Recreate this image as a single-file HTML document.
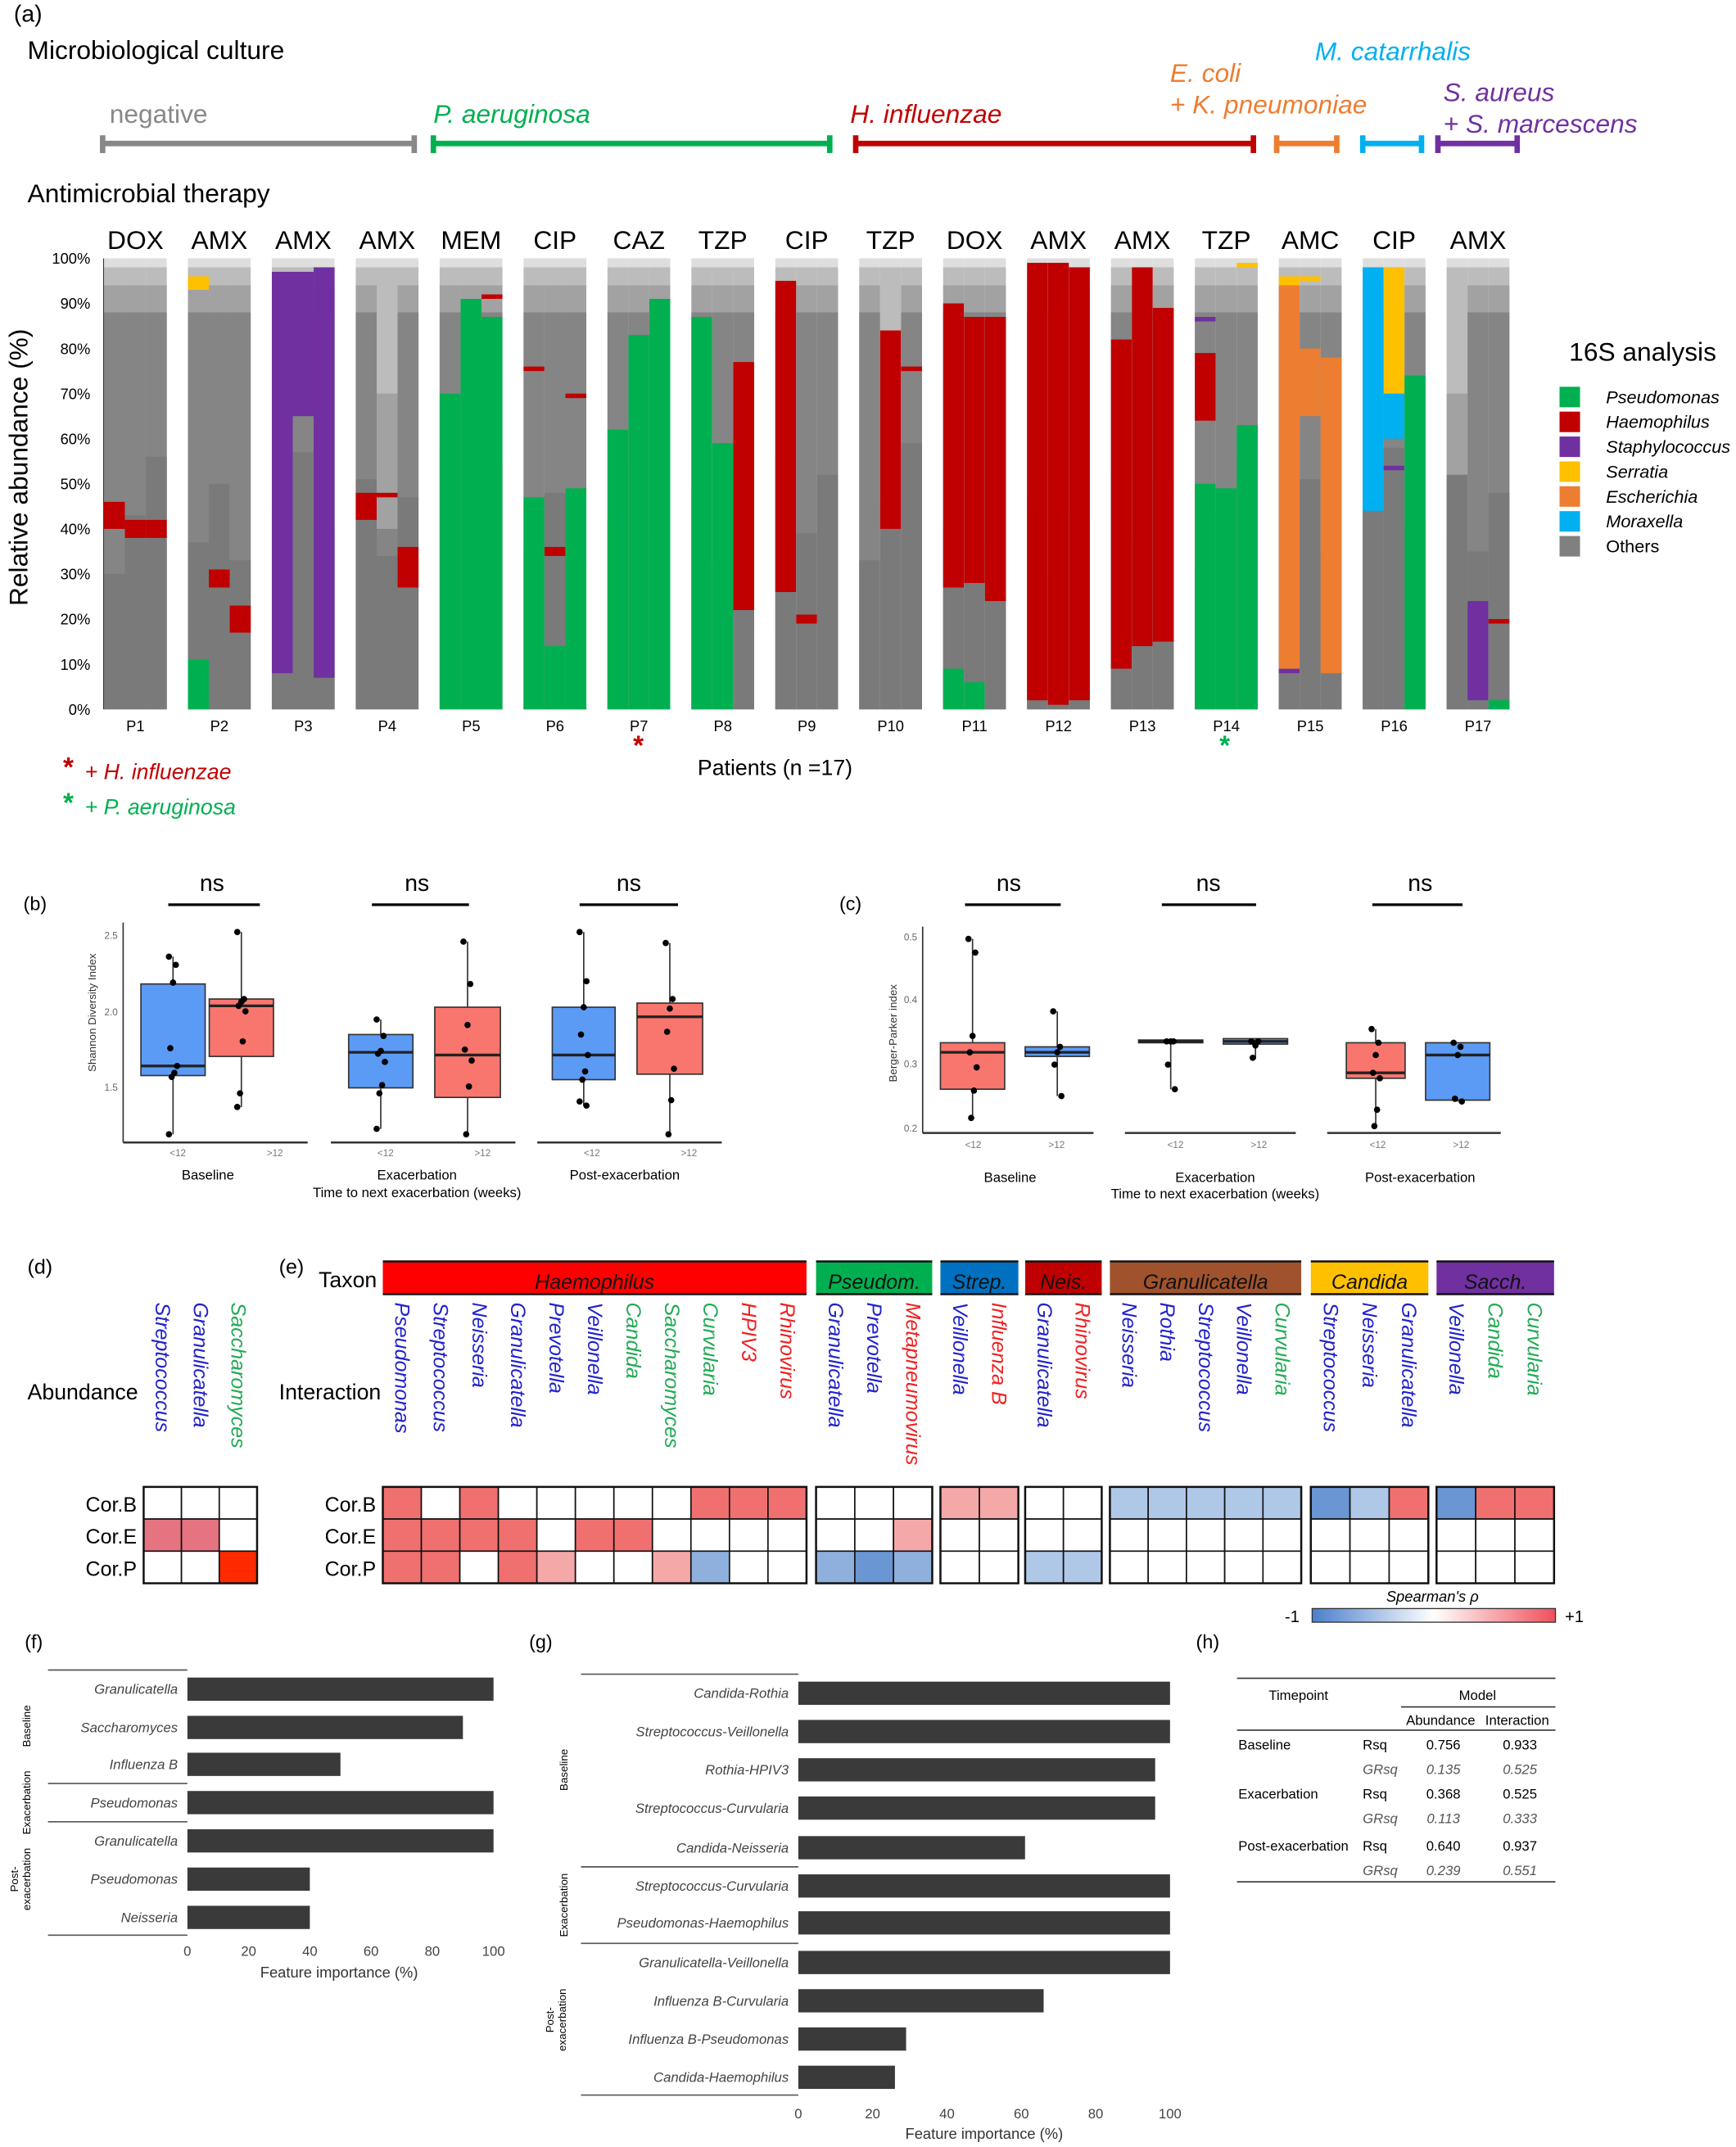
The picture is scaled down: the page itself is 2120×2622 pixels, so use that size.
<!DOCTYPE html>
<html><head><meta charset="utf-8"><style>
html,body{margin:0;padding:0;background:#fff}
svg{display:block}
text{font-family:"Liberation Sans",Arial,sans-serif}
</style></head><body>
<svg id="s" width="2120" height="2622" viewBox="0 0 1270 1571" xmlns="http://www.w3.org/2000/svg">
<rect width="1270" height="1571" fill="#fff"/>
<g id="g"></g>
</svg>
<script>
var h='';
function T(x,y,t,o){o=o||{};h+='<text x="'+x+'" y="'+y+'" font-size="'+(o.s||12)+'" fill="'+(o.c||'#000')+'"'+(o.a?' text-anchor="'+o.a+'"':'')+(o.i?' font-style="italic"':'')+(o.r?' transform="rotate('+o.r+' '+x+' '+y+')"':'')+(o.w?' font-weight="bold"':'')+'>'+t+'</text>';}
function R(x,y,w,hh,c,st){h+='<rect x="'+x+'" y="'+y+'" width="'+w+'" height="'+hh+'" fill="'+c+'"'+(st?' stroke="'+st+'" stroke-width="1"':'')+'/>';}
function L(x1,y1,x2,y2,c,w){h+='<line x1="'+x1+'" y1="'+y1+'" x2="'+x2+'" y2="'+y2+'" stroke="'+(c||'#000')+'" stroke-width="'+(w||1)+'"/>';}
var G='#00b050',RD='#c00000',PU='#7030a0',YE='#ffc000',OR='#ed7d31',BL='#00b0f0';
T(10,16,'(a)',{s:17});
T(20,43,'Microbiological culture',{s:19});
T(20,148,'Antimicrobial therapy',{s:19});
function br(x1,x2,c){L(x1,105,x2,105,c,4);L(x1,99,x1,112,c,4);L(x2,99,x2,112,c,4);}
br(75,303,'#888');br(317,607,G);br(626,917,RD);br(934,978,OR);br(997,1040,BL);br(1052,1110,PU);
T(80,90,'negative',{s:19,c:'#888'});
T(317,90,'P. aeruginosa',{s:19,c:G,i:1});
T(622,90,'H. influenzae',{s:19,c:RD,i:1});
T(856,60,'E. coli',{s:19,c:OR,i:1});T(856,83,'+ K. pneumoniae',{s:19,c:OR,i:1});
T(962,44,'M. catarrhalis',{s:19,c:BL,i:1});
T(1056,74,'S. aureus',{s:19,c:PU,i:1});T(1056,97,'+ S. marcescens',{s:19,c:PU,i:1});
var drugs=['DOX','AMX','AMX','AMX','MEM','CIP','CAZ','TZP','CIP','TZP','DOX','AMX','AMX','TZP','AMC','CIP','AMX'];
var bars=[
[[[40,46,RD]],[[38,42,RD]],[[38,42,RD]]],
[[[0,11,G],[93,96,YE]],[[27,31,RD]],[[17,23,RD]]],
[[[8,97,PU]],[[65,97,PU]],[[7,98,PU]]],
[[[42,48,RD]],[[47,48,RD]],[[27,36,RD]]],
[[[0,70,G]],[[0,91,G]],[[0,87,G],[91,92,RD]]],
[[[0,47,G],[75,76,RD]],[[0,14,G],[34,36,RD]],[[0,49,G],[69,70,RD]]],
[[[0,62,G]],[[0,83,G]],[[0,91,G]]],
[[[0,87,G]],[[0,59,G]],[[22,77,RD]]],
[[[26,95,RD]],[[19,21,RD]],[]],
[[],[[40,84,RD]],[[75,76,RD]]],
[[[0,9,G],[27,90,RD]],[[0,6,G],[28,87,RD]],[[24,87,RD]]],
[[[2,99,RD]],[[1,99,RD]],[[2,98,RD]]],
[[[9,82,RD]],[[14,98,RD]],[[15,89,RD]]],
[[[0,50,G],[64,79,RD],[86,87,PU]],[[0,49,G]],[[0,63,G],[98,99,YE]]],
[[[8,9,PU],[9,94,OR],[94,96,YE]],[[65,80,OR],[95,96,YE]],[[8,78,OR]]],
[[[44,98,BL]],[[53,54,PU],[60,70,BL],[70,98,YE]],[[0,74,G]]],
[[],[[2,24,PU]],[[0,2,G],[19,20,RD]]]
];
function yv(p){return 519-p*3.3;}
T(20,342,'Relative abundance (%)',{s:19,a:'middle',r:-90});
for(var k=0;k<=10;k++){T(66,yv(k*10)+4,(k*10)+'%',{s:11,a:'end'});}
L(76,189,76,519,'#000',1);
for(var i=0;i<17;i++){
 var cx=99+i*61.4;
 T(cx,182,drugs[i],{s:19,a:'middle'});
 T(cx,535,'P'+(i+1),{s:11,a:'middle'});
 for(var j=0;j<3;j++){
  var x=cx-23+j*15.3;var light=(i==16&&j==0)||(i==9&&j==1)||(i==3&&j==1);
  R(x,yv(100),15.3,330,'#dedede');
  R(x,yv(98),15.3,3.3*98,'#bcbcbc');
  R(x,yv(light?70:94),15.3,3.3*(light?70:94),'#a2a2a2');
  R(x,yv(light?40:88),15.3,3.3*(light?40:88),'#858585');
  R(x,yv(30+((i*7+j*13)%30)),15.3,3.3*(30+((i*7+j*13)%30)),'#7a7a7a');
  var s=bars[i][j];
  for(var q=0;q<s.length;q++){R(x,yv(s[q][1]),15.3,3.3*(s[q][1]-s[q][0]),s[q][2]);}
 }
}
T(467,552,'*',{s:20,c:RD,a:'middle',w:1});T(896,552,'*',{s:20,c:G,a:'middle',w:1});
T(567,567,'Patients (n =17)',{s:16,a:'middle'});
T(46,568,'*',{s:20,c:RD,w:1});T(62,570,'+ H. influenzae',{s:16,c:RD,i:1});
T(46,594,'*',{s:20,c:G,w:1});T(62,596,'+ P. aeruginosa',{s:16,c:G,i:1});
T(1148,264,'16S analysis',{s:19});
var lg=[['Pseudomonas',G],['Haemophilus',RD],['Staphylococcus',PU],['Serratia',YE],['Escherichia',OR],['Moraxella',BL],['Others','#808080']];
for(var k=0;k<7;k++){R(1141,283+k*18.2,15,15,lg[k][1]);T(1175,295+k*18.2,lg[k][0],{s:13,i:k<6});}
function box(x1,x2,q1,md,q3,wl,wh,col,pts){var cx=(x1+x2)/2;L(cx,wh,cx,wl,'#333',1);R(x1,q3,x2-x1,q1-q3,col,'#333');L(x1,md,x2,md,'#222',2);for(var p=0;p<pts.length;p++)h+='<circle cx="'+(cx+((p*5)%7-3))+'" cy="'+pts[p]+'" r="2.3" fill="#000"/>';}
var BB='#5b9bf5',RR='#f8766d';
T(17,666,'(b)',{s:14});
T(70,741,'Shannon Diversity Index',{s:8,a:'middle',r:-90,c:'#333'});
L(90,675,90,836,'#333',1);
[[684,'2.5'],[740,'2.0'],[795,'1.5']].forEach(function(t){T(86,t[0]+3,t[1],{s:7,a:'end',c:'#666'});});
var fb=[[90,225],[242,377],[393,528]];
fb.forEach(function(f){L(f[0],836,f[1],836,'#333',1.5);T(f[0]+40,846,'&lt;12',{s:7,a:'middle',c:'#777'});T(f[0]+111,846,'&gt;12',{s:7,a:'middle',c:'#777'});});
box(103,150,787,780,720,830,700,BB,[700,706,719,767,780,785,788,830]);
box(153,200,773,736,731,810,682,RR,[682,731,733,736,740,762,800,810]);
box(255,302,796,770,757,826,746,BB,[746,758,769,771,777,794,800,826]);
box(318,366,803,772,737,830,689,RR,[689,720,750,768,776,795,830]);
box(404,450,790,772,737,809,682,BB,[682,718,737,757,772,784,790,806,809]);
box(466,514,786,744,734,830,690,RR,[690,731,738,755,782,805,830]);
[[155,123,190],[305,272,343],[460,424,496]].forEach(function(n){T(n[0],652,'ns',{s:17,a:'middle'});L(n[1],662,n[2],662,'#000',2);});
T(152,863,'Baseline',{s:10,a:'middle'});T(305,863,'Exacerbation',{s:10,a:'middle'});T(305,876,'Time to next exacerbation (weeks)',{s:10,a:'middle'});T(457,863,'Post-exacerbation',{s:10,a:'middle'});
T(614,666,'(c)',{s:14});
T(656,756,'Berger-Parker index',{s:8,a:'middle',r:-90,c:'#333'});
L(675,678,675,829,'#333',1);
[[685,'0.5'],[731,'0.4'],[778,'0.3'],[825,'0.2']].forEach(function(t){T(671,t[0]+3,t[1],{s:7,a:'end',c:'#666'});});
var fc=[[675,800],[823,948],[971,1098]];
fc.forEach(function(f){L(f[0],829,f[1],829,'#333',1.5);T(f[0]+37,840,'&lt;12',{s:7,a:'middle',c:'#777'});T(f[0]+98,840,'&gt;12',{s:7,a:'middle',c:'#777'});});
box(688,735,797,770,763,817,687,RR,[687,697,758,770,781,798,818]);
box(750,797,773,770,766,802,740,BB,[740,766,770,779,802]);
box(833,880,763,762,761,797,762,RR,[762,762,762,779,797]);
box(895,942,764,762,760,775,762,BB,[762,762,765,774]);
box(985,1028,789,785,763,824,753,RR,[753,763,772,785,789,812,824]);
box(1043,1090,805,772,763,806,763,BB,[763,766,772,804,806]);
[[738,706,776],[884,850,919],[1039,1004,1070]].forEach(function(n){T(n[0],652,'ns',{s:17,a:'middle'});L(n[1],662,n[2],662,'#000',2);});
T(739,865,'Baseline',{s:10,a:'middle'});T(889,865,'Exacerbation',{s:10,a:'middle'});T(889,877,'Time to next exacerbation (weeks)',{s:10,a:'middle'});T(1039,865,'Post-exacerbation',{s:10,a:'middle'});
T(20,932,'(d)',{s:15});T(204,932,'(e)',{s:15});T(233,942,'Taxon',{s:16});
T(20,1024,'Abundance',{s:16});T(204,1024,'Interaction',{s:16});
var CB='#2222cc',CG='#22aa55',CR='#ee2222';
var grp=[['Haemophilus',280,590,'#ff0000',[['Pseudomonas',CB],['Streptococcus',CB],['Neisseria',CB],['Granulicatella',CB],['Prevotella',CB],['Veillonella',CB],['Candida',CG],['Saccharomyces',CG],['Curvularia',CG],['HPIV3',CR],['Rhinovirus',CR]]],
['Pseudom.',597,682,'#00b050',[['Granulicatella',CB],['Prevotella',CB],['Metapneumovirus',CR]]],
['Strep.',688,745,'#0070c0',[['Veillonella',CB],['Influenza B',CR]]],
['Neis.',750,806,'#c00000',[['Granulicatella',CB],['Rhinovirus',CR]]],
['Granulicatella',812,952,'#a0522d',[['Neisseria',CB],['Rothia',CB],['Streptococcus',CB],['Veillonella',CB],['Curvularia',CG]]],
['Candida',959,1045,'#ffc000',[['Streptococcus',CB],['Neisseria',CB],['Granulicatella',CB]]],
['Sacch.',1051,1137,'#7030a0',[['Veillonella',CB],['Candida',CG],['Curvularia',CG]]]];
var r1='#f07070',r2='#f5a8a8',b1='#8fb0dc',b2='#b0c8e8',b3='#6a96d4',W='#fff',RS='#ff2a00';
var cells=[
[[r1,W,r1,W,W,W,W,W,r1,r1,r1],[r1,r1,r1,r1,W,r1,r1,W,W,W,W],[r1,r1,W,r1,r2,W,W,r2,b1,W,W]],
[[W,W,W],[W,W,r2],[b1,b3,b1]],
[[r2,r2],[W,W],[W,W]],
[[W,W],[W,W],[b2,b2]],
[[b2,b2,b2,b2,b2],[W,W,W,W,W],[W,W,W,W,W]],
[[b3,b2,r1],[W,W,W],[W,W,W]],
[[b3,r1,r1],[W,W,W],[W,W,W]]];
function heat(x1,x2,sp,cl){var n=sp.length,w=(x2-x1)/n;
 for(var c=0;c<n;c++){var cx=x1+w*c+w/2;T(cx-5,953,sp[c][0],{s:15,i:1,c:sp[c][1],r:90});
  for(var r=0;r<3;r++)R(x1+w*c,1088+r*23.5,w,23.5,cl[r][c],'#111');}
 h+='<rect x="'+x1+'" y="1088" width="'+(x2-x1)+'" height="70.5" fill="none" stroke="#111" stroke-width="1.5"/>';}
grp.forEach(function(g,gi){R(g[1],923,g[2]-g[1],24,g[3]);L(g[1],923,g[2],923,'#111',1.5);L(g[1],947,g[2],947,'#111',1.5);
 T((g[1]+g[2])/2,943,g[0],{s:15,i:1,a:'middle',c:'#111'});heat(g[1],g[2],g[4],cells[gi]);});
heat(105,188,[['Streptococcus',CB],['Granulicatella',CB],['Saccharomyces',CG]],[[W,W,W],['#e57380','#e57380',W],[W,W,RS]]);
['Cor.B','Cor.E','Cor.P'].forEach(function(t,r){T(100,1106+r*23.5,t,{s:15,a:'end'});T(275,1106+r*23.5,t,{s:15,a:'end'});});
h+='<defs><linearGradient id="cg"><stop offset="0" stop-color="#4a7fcc"/><stop offset="0.5" stop-color="#fff"/><stop offset="1" stop-color="#f0505a"/></linearGradient></defs>';
h+='<rect x="960" y="1177" width="178" height="10" fill="url(#cg)" stroke="#333" stroke-width="0.8"/>';
T(1048,1172,'Spearman\'s ρ',{s:11,i:1,a:'middle'});T(940,1187,'-1',{s:12});T(1145,1187,'+1',{s:12});
T(18,1206,'(f)',{s:14});
var BC='#3a3a3a';
function hb(x0,x100,rows,lx){rows.forEach(function(r){R(x0,r[1]-8.5,(x100-x0)*r[2]/100,17,BC);T(lx,r[1]+3.5,r[0],{s:10,i:1,a:'end',c:'#444'});});}
hb(137,361,[['Granulicatella',1236,100],['Saccharomyces',1264,90],['Influenza B',1291,50],['Pseudomonas',1319,100],['Granulicatella',1347,100],['Pseudomonas',1375,40],['Neisseria',1403,40]],130);
[1222,1305,1333,1416].forEach(function(y){L(35,y,137,y,'#555',1);});
T(22,1263,'Baseline',{s:8,a:'middle',r:-90});T(22,1319,'Exacerbation',{s:8,a:'middle',r:-90});
T(13,1375,'Post-',{s:8,a:'middle',r:-90});T(22,1375,'exacerbation',{s:8,a:'middle',r:-90});
for(var k=0;k<=5;k++)T(137+k*44.8,1431,k*20,{s:10,a:'middle',c:'#444'});
T(248,1447,'Feature importance (%)',{s:11,a:'middle',c:'#333'});
T(387,1206,'(g)',{s:14});
hb(584,856,[['Candida-Rothia',1239,100],['Streptococcus-Veillonella',1267,100],['Rothia-HPIV3',1295,96],['Streptococcus-Curvularia',1323,96],['Candida-Neisseria',1352,61],['Streptococcus-Curvularia',1380,100],['Pseudomonas-Haemophilus',1407,100],['Granulicatella-Veillonella',1436,100],['Influenza B-Curvularia',1464,66],['Influenza B-Pseudomonas',1492,29],['Candida-Haemophilus',1520,26]],577);
[1225,1366,1422,1533].forEach(function(y){L(425,y,584,y,'#555',1);});
T(415,1295,'Baseline',{s:8,a:'middle',r:-90});T(415,1394,'Exacerbation',{s:8,a:'middle',r:-90});
T(405,1478,'Post-',{s:8,a:'middle',r:-90});T(414,1478,'exacerbation',{s:8,a:'middle',r:-90});
for(var k=0;k<=5;k++)T(584+k*54.4,1550,k*20,{s:10,a:'middle',c:'#444'});
T(720,1565,'Feature importance (%)',{s:11,a:'middle',c:'#333'});
T(875,1206,'(h)',{s:14});
L(905,1228,1138,1228,'#333',1);L(1025,1249,1138,1249,'#333',1);L(905,1266,1138,1266,'#333',1);L(905,1377,1138,1377,'#333',1);
T(950,1244,'Timepoint',{s:10,a:'middle'});T(1081,1244,'Model',{s:10,a:'middle'});
T(1054,1262,'Abundance',{s:10,a:'middle'});T(1110,1262,'Interaction',{s:10,a:'middle'});
var tb=[['Baseline','0.756','0.933','0.135','0.525',1280],['Exacerbation','0.368','0.525','0.113','0.333',1316],['Post-exacerbation','0.640','0.937','0.239','0.551',1354]];
tb.forEach(function(r){T(906,r[5],r[0],{s:10});T(997,r[5],'Rsq',{s:10});T(1056,r[5],r[1],{s:10,a:'middle'});T(1112,r[5],r[2],{s:10,a:'middle'});
 T(997,r[5]+18,'GRsq',{s:10,i:1,c:'#555'});T(1056,r[5]+18,r[3],{s:10,a:'middle',i:1,c:'#555'});T(1112,r[5]+18,r[4],{s:10,a:'middle',i:1,c:'#555'});});
document.getElementById('g').innerHTML=h;
</script>
</body></html>
